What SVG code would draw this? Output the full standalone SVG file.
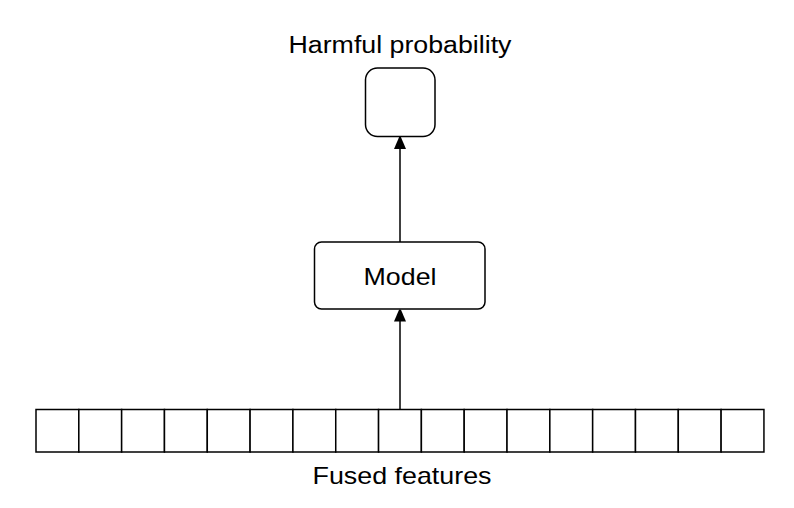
<svg xmlns="http://www.w3.org/2000/svg" width="794" height="508" viewBox="0 0 794 508">
<style>
.box{fill:#fff;stroke:#000;stroke-width:1.5}
.cell{fill:#fff;stroke:#000;stroke-width:1.5}
.t{font-family:"Liberation Sans",Arial,Helvetica,sans-serif;fill:#000;text-anchor:middle}
.edge{stroke:#000;stroke-width:1.5;fill:none}
</style>
<defs>
<marker id="arr" viewBox="0 0 12 15" refX="12" refY="6" markerWidth="12" markerHeight="15" markerUnits="userSpaceOnUse" orient="auto"><path d="M0,0 L14,6 L0,12 z" fill="#000"/></marker>
</defs>
<rect width="794" height="508" fill="#fff"/>
<g id="harmful">
<text class="t" x="400" y="53" font-size="23" textLength="223" lengthAdjust="spacingAndGlyphs">Harmful probability</text>
<rect class="box" x="365.5" y="68" width="69.5" height="68.5" rx="12"/>
</g>
<g id="model">
<rect class="box" x="314.5" y="242" width="170.5" height="67" rx="7"/>
<text class="t" x="400" y="285" font-size="24" textLength="73" lengthAdjust="spacingAndGlyphs">Model</text>
</g>
<g id="fused">
<g id="cells">
<rect class="cell" x="36" y="409.5" width="42.82" height="42.5"/>
<rect class="cell" x="78.82" y="409.5" width="42.82" height="42.5"/>
<rect class="cell" x="121.64" y="409.5" width="42.82" height="42.5"/>
<rect class="cell" x="164.46" y="409.5" width="42.82" height="42.5"/>
<rect class="cell" x="207.28" y="409.5" width="42.82" height="42.5"/>
<rect class="cell" x="250.1" y="409.5" width="42.82" height="42.5"/>
<rect class="cell" x="292.92" y="409.5" width="42.82" height="42.5"/>
<rect class="cell" x="335.74" y="409.5" width="42.82" height="42.5"/>
<rect class="cell" x="378.56" y="409.5" width="42.82" height="42.5"/>
<rect class="cell" x="421.38" y="409.5" width="42.82" height="42.5"/>
<rect class="cell" x="464.2" y="409.5" width="42.82" height="42.5"/>
<rect class="cell" x="507.02" y="409.5" width="42.82" height="42.5"/>
<rect class="cell" x="549.84" y="409.5" width="42.82" height="42.5"/>
<rect class="cell" x="592.66" y="409.5" width="42.82" height="42.5"/>
<rect class="cell" x="635.48" y="409.5" width="42.82" height="42.5"/>
<rect class="cell" x="678.3" y="409.5" width="42.82" height="42.5"/>
<rect class="cell" x="721.12" y="409.5" width="42.82" height="42.5"/>
</g>
<text class="t" x="402" y="484" font-size="24" textLength="179" lengthAdjust="spacingAndGlyphs">Fused features</text>
</g>
<g id="connectors">
<line class="edge" x1="400" y1="409.5" x2="400" y2="309.5" marker-end="url(#arr)"/>
<line class="edge" x1="400" y1="242" x2="400" y2="137" marker-end="url(#arr)"/>
</g>
</svg>
